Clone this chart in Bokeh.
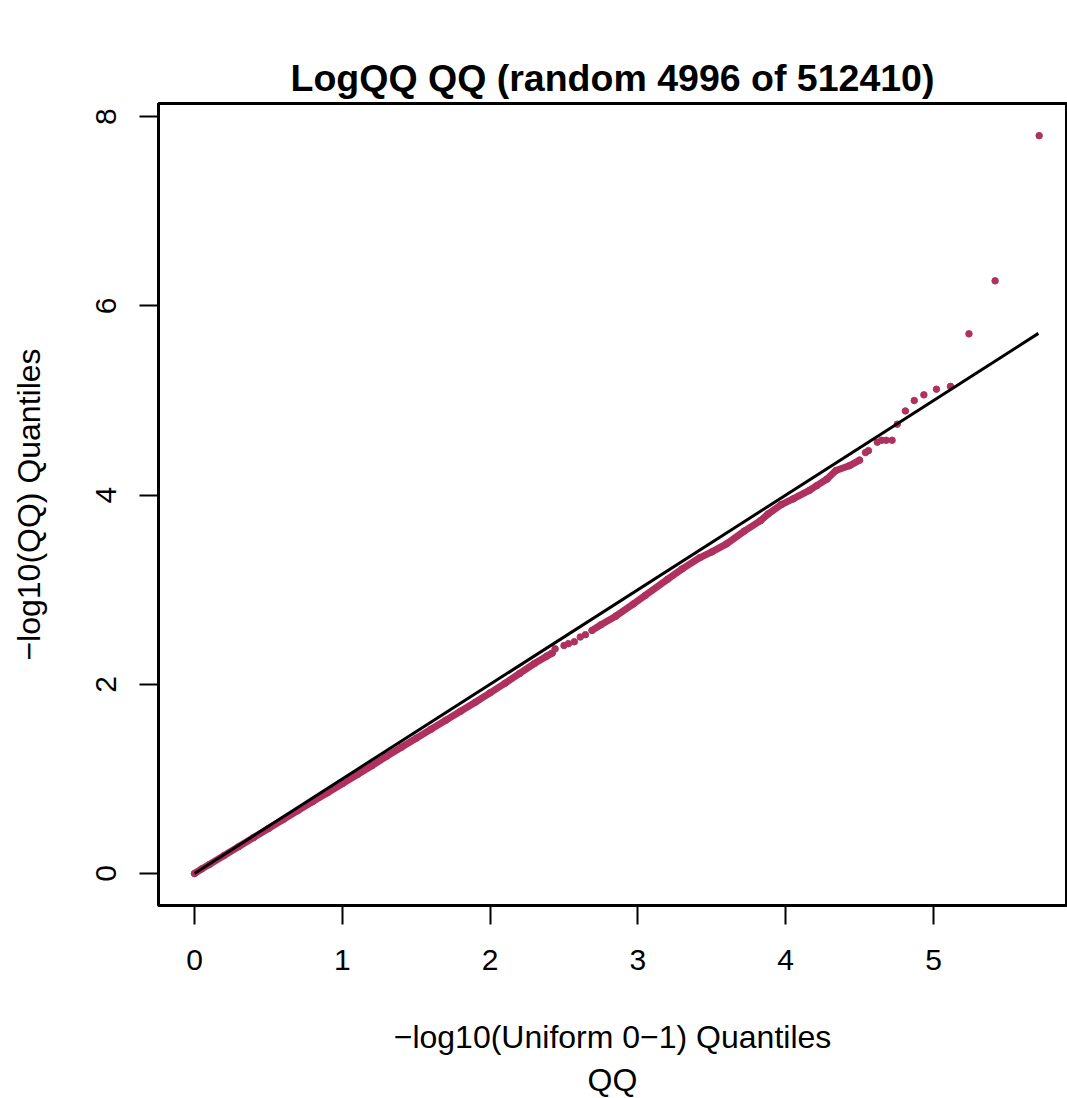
from bokeh.plotting import figure
from bokeh.models import FixedTicker, Title
from bokeh.embed import file_html
from bokeh.resources import INLINE

# ---- data ----
# dense part of the QQ cloud (points overlap into a band)
band1_x = [0.00, 0.05, 0.10, 0.20, 0.30, 0.40, 0.50, 0.60, 0.70, 0.80, 0.90, 1.00, 1.10, 1.20,
           1.30, 1.40, 1.50, 1.60, 1.70, 1.80, 1.90, 2.00, 2.10, 2.20, 2.30, 2.38, 2.42]
band1_y = [0.00, 0.05, 0.095, 0.19, 0.285, 0.38, 0.475, 0.57, 0.665, 0.76, 0.855, 0.95, 1.045, 1.14,
           1.24, 1.335, 1.43, 1.525, 1.62, 1.715, 1.81, 1.91, 2.01, 2.115, 2.22, 2.295, 2.33]
gap_x = [2.44, 2.50, 2.53, 2.57, 2.61, 2.645]
gap_y = [2.375, 2.41, 2.43, 2.45, 2.50, 2.525]
band2_x = [2.69, 2.75, 2.85, 2.97, 3.05, 3.20, 3.30, 3.42, 3.50, 3.60, 3.72, 3.83, 3.88, 3.97,
           4.05, 4.16, 4.21, 4.28, 4.34, 4.43, 4.50]
band2_y = [2.57, 2.63, 2.72, 2.85, 2.94, 3.11, 3.22, 3.34, 3.40, 3.485, 3.62, 3.73, 3.80, 3.90,
           3.96, 4.05, 4.10, 4.17, 4.26, 4.31, 4.37]
# separate points in the upper tail
tail_x = [4.54, 4.56, 4.62, 4.65, 4.68, 4.72, 4.755, 4.81, 4.87, 4.935, 5.02, 5.115, 5.24, 5.417, 5.715]
tail_y = [4.45, 4.47, 4.56, 4.58, 4.58, 4.58, 4.75, 4.89, 5.00, 5.06, 5.12, 5.15, 5.705, 6.265, 7.80]
# y = x reference line
ref_x = [0.0, 5.71]
ref_y = [0.0, 5.71]

x_ticks = [0, 1, 2, 3, 4, 5]
y_ticks = [0, 2, 4, 6, 8]

title_text = "LogQQ QQ (random 4996 of 512410)"
xlab = "\u2212log10(Uniform 0\u22121) Quantiles\nQQ"
ylab = "\u2212log10(QQ) Quantiles"

COL = "#B03060"
FONT = "Liberation Sans"

p = figure(frame_width=908, frame_height=802,
           min_border_left=158, min_border_top=103, min_border_right=1, min_border_bottom=185,
           x_range=(-0.2436, 5.900), y_range=(-0.338, 8.140),
           output_backend="svg", toolbar_location=None)
p.grid.visible = False
p.outline_line_color = "black"
p.outline_line_width = 3
p.outline_line_alpha = 1.0
p.background_fill_color = "white"
p.border_fill_color = "white"

# real title first (outer), then an invisible spacer (closest to the plot box)
main_title = Title(text=title_text, align="center", text_font=FONT, text_font_style="bold",
                   text_font_size="37.5px", text_color="black")
try:
    main_title.standoff = 10
except Exception:
    pass
p.add_layout(main_title, "above")

spacer = Title(text=".", text_font=FONT, text_font_style="bold", text_font_size="37.5px",
               text_color="white", text_alpha=0)
try:
    spacer.standoff = 1
except Exception:
    pass
p.add_layout(spacer, "above")

for ax in (p.xaxis[0], p.yaxis[0]):
    ax.axis_line_color = None
    ax.major_tick_out = 19
    ax.major_tick_in = 0
    ax.major_tick_line_width = 2
    ax.major_tick_line_color = "black"
    ax.minor_tick_line_color = None
    ax.major_label_text_font = FONT
    ax.major_label_text_font_size = "30px"
    ax.major_label_text_color = "black"
    ax.axis_label_text_font = FONT
    ax.axis_label_text_font_size = "32px"
    ax.axis_label_text_font_style = "normal"
    ax.axis_label_text_color = "black"

p.xaxis[0].ticker = FixedTicker(ticks=x_ticks)
p.yaxis[0].ticker = FixedTicker(ticks=y_ticks)
p.xaxis[0].major_label_standoff = 25
p.yaxis[0].major_label_standoff = 23
p.yaxis[0].major_label_orientation = "vertical"
p.xaxis[0].axis_label = xlab
p.yaxis[0].axis_label = ylab
p.xaxis[0].axis_label_standoff = 46
p.yaxis[0].axis_label_standoff = 47

# points
for xs, ys in ((band1_x, band1_y), (band2_x, band2_y)):
    p.line(xs, ys, line_color=COL, line_width=7, line_cap="round", line_join="round")
for xs, ys in ((band1_x, band1_y), (gap_x, gap_y), (band2_x, band2_y), (tail_x, tail_y)):
    p.scatter(xs, ys, size=6.5, fill_color=COL, line_color=COL)

p.line(ref_x, ref_y, line_color="black", line_width=3)

open("out.html", "w").write(file_html(p, INLINE))
